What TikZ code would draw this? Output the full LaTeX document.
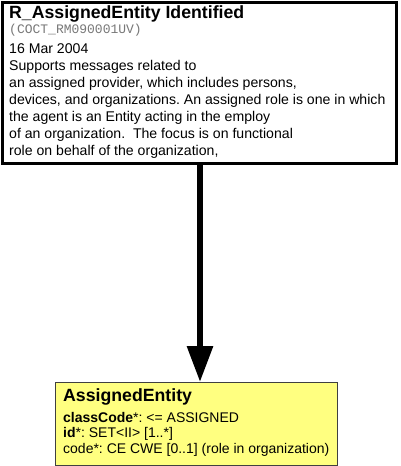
\documentclass[tikz,border=0pt]{standalone}
\usepackage{fontspec}
\setmainfont{Liberation Sans}
\setmonofont{Liberation Mono}
\usetikzlibrary{arrows.meta}
\frenchspacing
\definecolor{boxyellow}{RGB}{255,255,128}
\definecolor{boxedge}{RGB}{64,64,64}
\definecolor{idgray}{RGB}{120,120,120}
\tikzset{
  x=1pt, y=-1pt,
  txt/.style={anchor=base west, inner sep=0pt, font=\fontsize{14.1}{16}\selectfont},
  ttl/.style={anchor=base west, inner sep=0pt, font=\fontsize{17.7}{20}\selectfont\bfseries},
  mono/.style={anchor=base west, inner sep=0pt, text=idgray, font=\fontsize{13}{14}\ttfamily},
  attr/.style={anchor=base west, inner sep=0pt, font=\fontsize{14}{15}\selectfont},
}
\begin{document}
\begin{tikzpicture}
\useasboundingbox (0,0) rectangle (400,466);
% top box
\draw[line width=3pt, black, fill=white] (2.5,2.5) rectangle (396.5,163) coordinate (tbr);
\coordinate (topbot) at (200,163);
\node[ttl] (t1) at (9,18) {R\_AssignedEntity Identified};
\node[mono] (t2) at (9,33) {(COCT\_RM090001UV)};
\node[txt] (t3) at (9,53) {16 Mar 2004};
\node[txt] (t4) at (9,70) {Supports messages related to};
\node[txt] (t5) at (9,87) {an assigned provider, which includes persons,};
\node[txt] (t6) at (9,104) {devices, and organizations. An assigned role is one in which};
\node[txt] (t7) at (9,121) {the agent is an Entity acting in the employ};
\node[txt] (t8) at (9,138) {of an organization.\ \ The focus is on functional};
\node[txt] (t9) at (9,155) {role on behalf of the organization,};
% bottom box
\draw[boxedge, line width=1pt, fill=boxyellow] (55.5,382.5) rectangle (337,465.5);
\coordinate (botop) at (200,382);
\node[ttl] (b1) at (63,401) {AssignedEntity};
\node[attr] (b2) at (63,422) {\textbf{classCode}*: <= ASSIGNED};
\node[attr] (b3) at (63,437) {\textbf{id}*: SET<II> [1..*]};
\node[attr] (b4) at (63,453) {code*: CE CWE [0..1] (role in organization)};
% arrow
\draw[line width=6pt, -{Triangle[length=36pt, width=25pt]}] (topbot) -- (botop);
\end{tikzpicture}
\end{document}
